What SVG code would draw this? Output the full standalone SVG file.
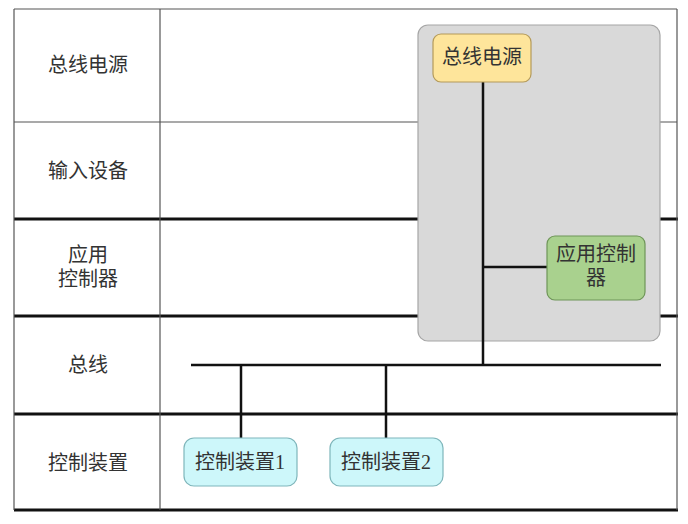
<svg xmlns="http://www.w3.org/2000/svg" width="688" height="524" viewBox="0 0 688 524">
<style>
.thin{stroke:#555;stroke-width:1.2;fill:none}
.thick{stroke:#111;stroke-width:3;fill:none}
.wire{stroke:#111;stroke-width:2.5;fill:none}
.lbl{font-family:"Liberation Serif","Noto Sans CJK SC",serif;font-size:20px;fill:#333;text-anchor:middle}
.ntx{font-family:"Liberation Serif","Noto Sans CJK SC",serif;font-size:20px;fill:#333;text-anchor:middle}
</style>
<rect width="688" height="524" fill="#fff"/>
<g id="grid">
<line class="thin" x1="14" y1="9" x2="677" y2="9"/>
<line class="thin" x1="14" y1="122" x2="677" y2="122"/>
<line class="thick" x1="14" y1="219" x2="678" y2="219"/>
<line class="thick" x1="14" y1="316" x2="678" y2="316"/>
<line class="thick" x1="14" y1="414" x2="678" y2="414"/>
<line class="thick" x1="14" y1="510" x2="678" y2="510"/>
<line class="thin" x1="14" y1="9" x2="14" y2="510"/>
<line class="thin" x1="160" y1="9" x2="160" y2="510"/>
<line class="thin" x1="677" y1="9" x2="677" y2="510"/>
</g>
<g id="row-labels">
<text class="lbl" x="88" y="72">总线电源</text>
<text class="lbl" x="88" y="178">输入设备</text>
<text class="lbl" x="88" y="262">应用</text>
<text class="lbl" x="88" y="286">控制器</text>
<text class="lbl" x="88" y="372">总线</text>
<text class="lbl" x="88" y="470">控制装置</text>
</g>
<g id="container">
<rect x="418" y="25" width="242" height="316" rx="10" fill="#d9d9d9" stroke="#a6a6a6" stroke-width="1.2"/>
</g>
<g id="connectors">
<line class="wire" x1="483" y1="82" x2="483" y2="366"/>
<line class="wire" x1="483" y1="267" x2="547" y2="267"/>
<line class="wire" x1="191" y1="365" x2="661" y2="365"/>
<line class="wire" x1="241" y1="365" x2="241" y2="438"/>
<line class="wire" x1="386" y1="365" x2="386" y2="438"/>
</g>
<g id="bus-power">
<rect x="433" y="34" width="98" height="48" rx="8" fill="#fee59b" stroke="#b49a5a" stroke-width="1.2"/>
<text class="ntx" x="482" y="64">总线电源</text>
</g>
<g id="app-controller">
<rect x="547" y="236" width="98" height="64" rx="8" fill="#a9d18e" stroke="#6e9558" stroke-width="1.2"/>
<text class="ntx" x="596" y="261">应用控制</text>
<text class="ntx" x="596" y="285">器</text>
</g>
<g id="ctrl1">
<rect x="184" y="438" width="113" height="48" rx="10" fill="#cdf7fa" stroke="#7fb6bb" stroke-width="1.2"/>
<text class="ntx" x="240" y="469">控制装置1</text>
</g>
<g id="ctrl2">
<rect x="330" y="438" width="113" height="48" rx="10" fill="#cdf7fa" stroke="#7fb6bb" stroke-width="1.2"/>
<text class="ntx" x="386" y="469">控制装置2</text>
</g>
</svg>
